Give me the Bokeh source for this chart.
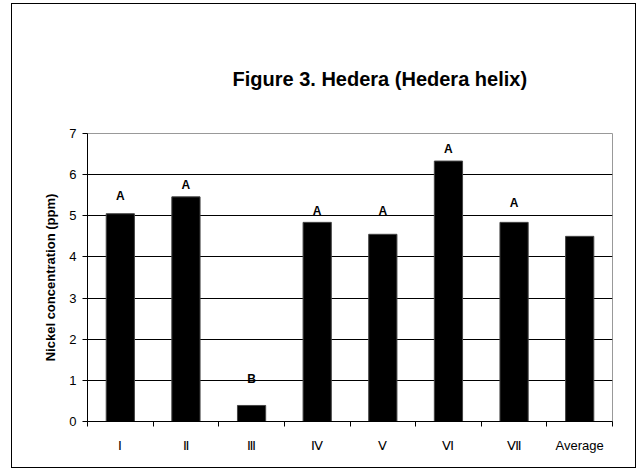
from bokeh.plotting import figure
from bokeh.models import FixedTicker, Range1d, Title, ColumnDataSource
from bokeh.core.properties import value
from bokeh.embed import file_html
from bokeh.resources import INLINE

categories = ["Ⅰ", "Ⅱ", "Ⅲ", "Ⅳ", "Ⅴ", "Ⅵ", "Ⅶ", "Average"]
nickel = [5.05, 5.46, 0.39, 4.84, 4.55, 6.33, 4.84, 4.50]
letters = ["A", "A", "B", "A", "A", "A", "A", ""]
letter_y = [5.49, 5.76, 1.03, 5.12, 5.12, 6.63, 5.32, 0]
y_ticks = [0, 1, 2, 3, 4, 5, 6, 7]

xs = [i + 0.5 for i in range(len(categories))]
src = ColumnDataSource(dict(x=xs, top=nickel, lab=letters, ly=letter_y))

FONT = "Liberation Sans"

p = figure(width=625, height=465, output_backend="svg", toolbar_location=None,
           x_range=Range1d(0, len(categories)), y_range=Range1d(0, 7),
           min_border_left=75, min_border_right=25, min_border_top=129, min_border_bottom=48,
           styles={"border": "1px solid #000", "margin-left": "11px", "margin-top": "3px"})

p.background_fill_color = "white"
p.border_fill_color = "white"
p.outline_line_color = "#999999"
p.outline_line_width = 1

p.vbar(x="x", top="top", width=0.43, source=src, fill_color="black", line_color="#444444", line_width=1)
p.text(x="x", y="ly", text="lab", source=src, text_align="center", text_baseline="middle",
       text_font=value(FONT), text_font_style="bold", text_font_size="12px", text_color="black")

t = Title(text="Figure 3. Hedera (Hedera helix)", align="left", offset=145, standoff=88,
          text_font=FONT, text_font_size="20px", text_font_style="bold", text_color="black")
p.add_layout(t, "above")

# y axis
p.yaxis.ticker = FixedTicker(ticks=y_ticks, minor_ticks=[])
p.yaxis.axis_line_color = "black"
p.yaxis.major_tick_in = 0
p.yaxis.major_tick_out = 5
p.yaxis.major_tick_line_color = "black"
p.yaxis.minor_tick_line_color = None
p.yaxis.major_label_text_font = FONT
p.yaxis.major_label_text_font_size = "13px"
p.yaxis.major_label_text_color = "black"
p.yaxis.major_label_standoff = 6
p.yaxis.axis_label = "Nickel concentration (ppm)"
p.yaxis.axis_label_text_font = FONT
p.yaxis.axis_label_text_font_size = "13px"
p.yaxis.axis_label_text_font_style = "bold"
p.yaxis.axis_label_text_color = "black"
p.yaxis.axis_label_standoff = 8

# x axis: labels at centers, ticks at boundaries (minor)
p.xaxis.ticker = FixedTicker(ticks=xs, minor_ticks=list(range(len(categories) + 1)))
p.xaxis.major_label_overrides = {x: c for x, c in zip(xs, categories)}
p.xaxis.axis_line_color = "black"
p.xaxis.major_tick_in = 0
p.xaxis.major_tick_out = 0
p.xaxis.minor_tick_in = 0
p.xaxis.minor_tick_out = 5
p.xaxis.minor_tick_line_color = "black"
p.xaxis.major_label_text_font = FONT
p.xaxis.major_label_text_font_size = "13px"
p.xaxis.major_label_text_color = "black"
p.xaxis.major_label_standoff = 11

p.xgrid.grid_line_color = None
p.ygrid.ticker = FixedTicker(ticks=[1, 2, 3, 4, 5, 6])
p.ygrid.grid_line_color = "black"
p.ygrid.grid_line_width = 1
p.ygrid.grid_line_alpha = 1

open("out.html", "w").write(file_html(p, INLINE))
